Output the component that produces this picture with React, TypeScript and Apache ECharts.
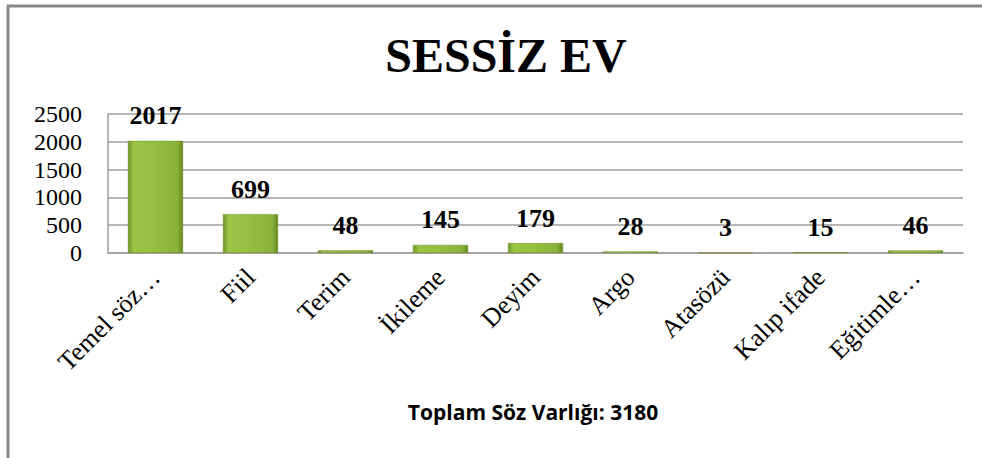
import React, { useEffect, useRef } from "react";
import * as echarts from "echarts";

const categories = ["Temel söz…", "Fiil", "Terim", "İkileme", "Deyim", "Argo", "Atasözü", "Kalıp ifade", "Eğitimle…"];
const values = [2017, 699, 48, 145, 179, 28, 3, 15, 46];
const titleText = "SESSİZ EV";
const footerText = "Toplam Söz Varlığı: 3180";
const yTicks = { min: 0, max: 2500, interval: 500 };

export default function App() {
  const ref = useRef<HTMLDivElement>(null);
  useEffect(() => {
    const chart = echarts.init(ref.current!, undefined, { renderer: "svg" });
    const barColor = new echarts.graphic.LinearGradient(0, 0, 1, 0, [
      { offset: 0, color: "#6f9226" },
      { offset: 0.1, color: "#9cc446" },
      { offset: 0.5, color: "#95bd40" },
      { offset: 0.9, color: "#8ab23a" },
      { offset: 1, color: "#65861f" },
    ]);
    chart.setOption({
      animation: false,
      backgroundColor: "#ffffff",
      title: {
        text: titleText,
        left: 501,
        top: 26,
        textAlign: "center",
        textStyle: { fontFamily: "Liberation Serif", fontWeight: "bold", fontSize: 48, color: "#000" },
      },
      grid: { left: 108, right: 19, top: 114, bottom: 205, containLabel: false },
      xAxis: {
        type: "category",
        data: categories,
        axisLine: { show: true, lineStyle: { color: "#9f9f9f", width: 1.5 } },
        axisTick: { show: false },
        axisLabel: {
          rotate: 45,
          interval: 0,
          margin: 20,
          fontFamily: "Liberation Serif",
          fontSize: 26,
          color: "#000",
        },
      },
      yAxis: {
        type: "value",
        min: yTicks.min,
        max: yTicks.max,
        interval: yTicks.interval,
        axisLine: { show: true, lineStyle: { color: "#9f9f9f", width: 1.5 } },
        axisTick: { show: false },
        splitLine: { lineStyle: { color: "#9f9f9f", width: 1.5 } },
        axisLabel: {
          margin: 26,
          fontFamily: "Liberation Serif",
          fontSize: 24,
          color: "#000",
          formatter: (v: number) => String(v),
        },
      },
      series: [
        {
          type: "bar",
          data: values,
          barWidth: "58%",
          itemStyle: { color: barColor, borderColor: "#6a8c24", borderWidth: 0.5 },
          label: {
            show: true,
            position: "top",
            distance: 12,
            fontFamily: "Liberation Serif",
            fontWeight: "bold",
            fontSize: 26,
            color: "#000",
          },
        },
      ],
      graphic: [
        { type: "line", shape: { x1: 7, y1: 6, x2: 982, y2: 6 }, style: { stroke: "#878787", lineWidth: 3 } },
        { type: "line", shape: { x1: 8, y1: 6, x2: 8, y2: 458 }, style: { stroke: "#878787", lineWidth: 3 } },
        {
          type: "text",
          x: 533,
          y: 412,
          style: {
            text: footerText,
            textAlign: "center",
            textVerticalAlign: "middle",
            fontFamily: "Open Sans",
            fontWeight: "bold",
            fontSize: 21,
            fill: "#000",
          },
        },
      ],
    });
    return () => chart.dispose();
  }, []);
  return <div ref={ref} style={{ position: "fixed", left: 0, top: 0, width: 982, height: 458 }} />;
}
